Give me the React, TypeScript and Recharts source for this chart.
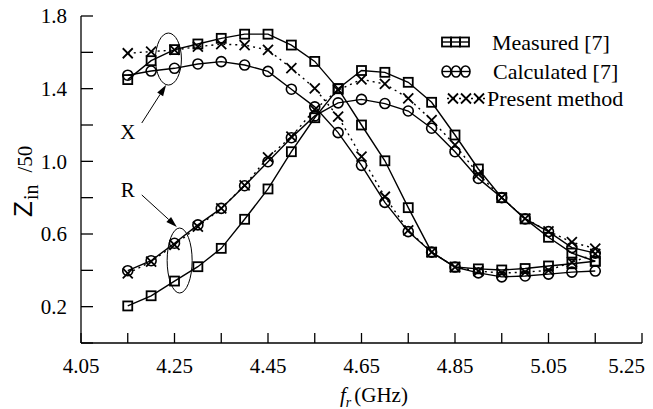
import React from 'react';
import { LineChart, Line, XAxis, YAxis, ReferenceDot, ReferenceLine, Legend } from 'recharts';

// Frequency (GHz)
const freqs = [4.15, 4.2, 4.25, 4.3, 4.35, 4.4, 4.45, 4.5, 4.55, 4.6, 4.65, 4.7, 4.75, 4.8, 4.85, 4.9, 4.95, 5.0, 5.05, 5.1, 5.15];

// Zin/50 reactance (X) and resistance (R)
const measuredX = [1.45, 1.554, 1.615, 1.646, 1.677, 1.70, 1.70, 1.64, 1.55, 1.40, 1.20, 1.003, 0.745, 0.50, 0.418, 0.408, 0.402, 0.41, 0.424, 0.436, 0.45];
const measuredR = [0.204, 0.26, 0.341, 0.42, 0.521, 0.681, 0.848, 1.053, 1.24, 1.40, 1.50, 1.49, 1.435, 1.325, 1.145, 0.958, 0.80, 0.683, 0.582, 0.495, 0.45];
const calculatedX = [1.474, 1.497, 1.512, 1.536, 1.549, 1.53, 1.495, 1.397, 1.30, 1.158, 0.978, 0.774, 0.613, 0.50, 0.418, 0.386, 0.364, 0.369, 0.379, 0.39, 0.396];
const calculatedR = [0.398, 0.453, 0.549, 0.65, 0.741, 0.866, 0.998, 1.13, 1.25, 1.322, 1.341, 1.318, 1.277, 1.182, 1.053, 0.906, 0.80, 0.683, 0.613, 0.525, 0.495];
const presentX = [1.595, 1.604, 1.613, 1.631, 1.645, 1.64, 1.613, 1.513, 1.402, 1.246, 1.026, 0.805, 0.62, 0.50, 0.418, 0.396, 0.385, 0.39, 0.40, 0.445, 0.49];
const presentR = [0.383, 0.448, 0.54, 0.64, 0.741, 0.868, 1.022, 1.136, 1.285, 1.392, 1.451, 1.426, 1.347, 1.227, 1.09, 0.93, 0.80, 0.685, 0.615, 0.555, 0.52];

// Axis ticks
const xTicks = [4.05, 4.15, 4.25, 4.35, 4.45, 4.55, 4.65, 4.75, 4.85, 4.95, 5.05, 5.15, 5.25];
const xTickLabels = ['4.05', '4.25', '4.45', '4.65', '4.85', '5.05', '5.25'];
const yTicks = [0, 0.2, 0.4, 0.6, 0.8, 1.0, 1.2, 1.4, 1.6, 1.8];
const yTickLabels = ['0.2', '0.6', '1.0', '1.4', '1.8'];

// Legend entries
const legendNames = ['Measured [7]', 'Calculated [7]', 'Present method'];

// Annotation anchors (data coordinates)
const xEllipse = { f: 4.237, v: 1.563 };
const rEllipse = { f: 4.261, v: 0.454 };
const xArrow = [{ x: 4.18, y: 1.211 }, { x: 4.232, y: 1.42 }];
const rArrow = [{ x: 4.18, y: 0.815 }, { x: 4.255, y: 0.639 }];
const xLabel = { f: 4.15, v: 1.161, text: 'X' };
const rLabel = { f: 4.15, v: 0.842, text: 'R' };

const data = freqs.map((f, i) => ({
  f,
  mX: measuredX[i],
  mR: measuredR[i],
  cX: calculatedX[i],
  cR: calculatedR[i],
  pX: presentX[i],
  pR: presentR[i],
}));

const SERIF = '"Liberation Serif", "Times New Roman", serif';
const SANS = '"Liberation Sans", Arial, sans-serif';

const SquareDot = (p: any) => {
  if (p.cx == null || p.cy == null) return <g key={p.index} />;
  return <rect key={p.index} x={p.cx - 4.5} y={p.cy - 4.5} width={9} height={9} fill="none" stroke="#000" strokeWidth={1.8} />;
};
const CircleDot = (p: any) => {
  if (p.cx == null || p.cy == null) return <g key={p.index} />;
  return <circle key={p.index} cx={p.cx} cy={p.cy} r={5} fill="none" stroke="#000" strokeWidth={1.6} />;
};
const CrossDot = (p: any) => {
  if (p.cx == null || p.cy == null) return <g key={p.index} />;
  const s = 5;
  return (
    <g key={p.index} stroke="#000" strokeWidth={1.8}>
      <line x1={p.cx - s} y1={p.cy - s} x2={p.cx + s} y2={p.cy + s} />
      <line x1={p.cx - s} y1={p.cy + s} x2={p.cx + s} y2={p.cy - s} />
    </g>
  );
};

const XTick = (props: any) => {
  const { x, payload } = props;
  const label = xTickLabels.find((l) => Math.abs(parseFloat(l) - payload.value) < 1e-6);
  if (!label) return <g />;
  const isLast = label === xTickLabels[xTickLabels.length - 1];
  return (
    <text x={isLast ? x + 3 : x} y={373} textAnchor={isLast ? 'end' : 'middle'} fontFamily={SERIF} fontSize={21} fill="#000">
      {label}
    </text>
  );
};

const YTick = (props: any) => {
  const { x, y, payload } = props;
  const label = yTickLabels.find((l) => Math.abs(parseFloat(l) - payload.value) < 1e-6);
  if (!label) return <g />;
  return (
    <text x={x} y={y} dy="0.35em" textAnchor="end" fontFamily={SERIF} fontSize={21} fill="#000">
      {label}
    </text>
  );
};

const EmptyTick = () => <g />;

const LegendContent = () => {
  const rows = [42, 71.5, 98.5];
  const left = 436;
  const top = 24;
  return (
    <svg width={210} height={90} style={{ display: 'block' }}>
      <g transform={`translate(${-left},${-top})`}>
        {/* Measured */}
        <line x1={442} y1={rows[0]} x2={469} y2={rows[0]} stroke="#000" strokeWidth={1.4} />
        {[446.5, 455.5, 464.5].map((cx) => (
          <rect key={cx} x={cx - 4.5} y={rows[0] - 4.5} width={9} height={9} fill="none" stroke="#000" strokeWidth={1.8} />
        ))}
        <text x={492} y={rows[0]} dy="0.35em" fontFamily={SERIF} fontSize={22} fill="#000">{legendNames[0]}</text>
        {/* Calculated */}
        <line x1={442} y1={rows[1]} x2={470} y2={rows[1]} stroke="#000" strokeWidth={1.4} />
        {[446.5, 456, 465.5].map((cx) => (
          <ellipse key={cx} cx={cx} cy={rows[1]} rx={4.5} ry={5.5} fill="none" stroke="#000" strokeWidth={1.6} />
        ))}
        <text x={493} y={rows[1]} dy="0.35em" fontFamily={SERIF} fontSize={22} fill="#000">{legendNames[1]}</text>
        {/* Present */}
        <line x1={447} y1={rows[2]} x2={487} y2={rows[2]} stroke="#000" strokeWidth={1.4} strokeDasharray="2 4" />
        {[453, 466, 479].map((cx) => (
          <g key={cx} stroke="#000" strokeWidth={1.8}>
            <line x1={cx - 5} y1={rows[2] - 5} x2={cx + 5} y2={rows[2] + 5} />
            <line x1={cx - 5} y1={rows[2] + 5} x2={cx + 5} y2={rows[2] - 5} />
          </g>
        ))}
        <text x={487} y={rows[2]} dy="0.35em" fontFamily={SERIF} fontSize={22} fill="#000">{legendNames[2]}</text>
      </g>
    </svg>
  );
};

const ellipseShape = (rx: number, ry: number) => (p: any) => (
  <ellipse cx={p.cx} cy={p.cy} rx={rx} ry={ry} fill="none" stroke="#000" strokeWidth={1} />
);

const textShape = (t: string) => (p: any) => (
  <text x={p.cx} y={p.cy} dy="0.35em" textAnchor="middle" fontFamily={SERIF} fontSize={21} fill="#000">{t}</text>
);

const arrowShape = (p: any) => {
  const { x1, y1, x2, y2 } = p;
  if ([x1, y1, x2, y2].some((v) => v == null || isNaN(v))) return <g />;
  const ang = Math.atan2(y2 - y1, x2 - x1);
  const len = 11;
  const w = 3.5;
  const bx = x2 - len * Math.cos(ang);
  const by = y2 - len * Math.sin(ang);
  const px = -Math.sin(ang) * w;
  const py = Math.cos(ang) * w;
  return (
    <g>
      <line x1={x1} y1={y1} x2={bx} y2={by} stroke="#000" strokeWidth={1} />
      <polygon points={`${x2},${y2} ${bx + px},${by + py} ${bx - px},${by - py}`} fill="#000" />
    </g>
  );
};

const YLabel = () => (
  <text transform="translate(32,217) rotate(-90)" fill="#000">
    <tspan fontFamily={SANS} fontSize={26}>Z</tspan>
    <tspan fontFamily={SERIF} fontSize={20} dy={6} dx={1}>in</tspan>
    <tspan fontFamily={SERIF} fontSize={21} dy={-6} dx={12}>/50</tspan>
  </text>
);

const XLabel = () => (
  <text x={340} y={402} fill="#000" fontFamily={SERIF}>
    <tspan fontSize={21} fontStyle="italic">f</tspan>
    <tspan fontSize={14} fontStyle="italic" dy={5}>r</tspan>
    <tspan fontSize={21} dy={-5} dx={3}>(GHz)</tspan>
  </text>
);

export default function App() {
  return (
    <div style={{ position: 'absolute', left: 0, top: 0, width: 653, height: 409, background: '#fff' }}>
      <LineChart width={653} height={409} data={data} margin={{ top: 16, right: 11, bottom: 0, left: 0 }}>
        <XAxis
          dataKey="f"
          type="number"
          domain={[4.05, 5.25]}
          ticks={xTicks}
          interval={0}
          allowDataOverflow
          height={66}
          tickSize={-10}
          tickMargin={10}
          tick={<XTick />}
          stroke="#000"
          strokeWidth={1.3}
          label={{ content: () => <XLabel /> }}
        />
        <XAxis
          xAxisId="top"
          orientation="top"
          type="number"
          domain={[4.05, 5.25]}
          ticks={xTicks}
          interval={0}
          allowDataOverflow
          height={0}
          tickSize={-10}
          tick={<EmptyTick />}
          stroke="#000"
          strokeWidth={1.3}
        />
        <YAxis
          type="number"
          domain={[0, 1.8]}
          ticks={yTicks}
          interval={0}
          allowDataOverflow
          width={81}
          tickSize={-12}
          tickMargin={26}
          tick={<YTick />}
          stroke="#000"
          strokeWidth={1.3}
          label={{ content: () => <YLabel /> }}
        />
        <YAxis
          yAxisId="right"
          orientation="right"
          type="number"
          domain={[0, 1.8]}
          ticks={yTicks}
          interval={0}
          allowDataOverflow
          width={0}
          tickSize={-12}
          tick={<EmptyTick />}
          stroke="#000"
          strokeWidth={1.3}
        />
        <Legend
          layout="vertical"
          verticalAlign="middle"
          align="center"
          wrapperStyle={{ position: 'absolute', left: 436, top: 24, width: 210, height: 90 }}
          content={() => <LegendContent />}
        />
        <Line dataKey="mX" stroke="#000" strokeWidth={1.4} dot={SquareDot} isAnimationActive={false} type="linear" />
        <Line dataKey="mR" stroke="#000" strokeWidth={1.4} dot={SquareDot} isAnimationActive={false} type="linear" />
        <Line dataKey="cX" stroke="#000" strokeWidth={1.4} dot={CircleDot} isAnimationActive={false} type="linear" />
        <Line dataKey="cR" stroke="#000" strokeWidth={1.4} dot={CircleDot} isAnimationActive={false} type="linear" />
        <Line dataKey="pX" stroke="#000" strokeWidth={1.4} strokeDasharray="2 4" dot={CrossDot} isAnimationActive={false} type="linear" />
        <Line dataKey="pR" stroke="#000" strokeWidth={1.4} strokeDasharray="2 4" dot={CrossDot} isAnimationActive={false} type="linear" />
        <ReferenceDot x={xEllipse.f} y={xEllipse.v} r={1} shape={ellipseShape(13, 26)} />
        <ReferenceDot x={rEllipse.f} y={rEllipse.v} r={1} shape={ellipseShape(12.5, 32.5)} />
        <ReferenceLine segment={xArrow} shape={arrowShape} />
        <ReferenceLine segment={rArrow} shape={arrowShape} />
        <ReferenceDot x={xLabel.f} y={xLabel.v} r={1} shape={textShape(xLabel.text)} />
        <ReferenceDot x={rLabel.f} y={rLabel.v} r={1} shape={textShape(rLabel.text)} />
      </LineChart>
    </div>
  );
}
